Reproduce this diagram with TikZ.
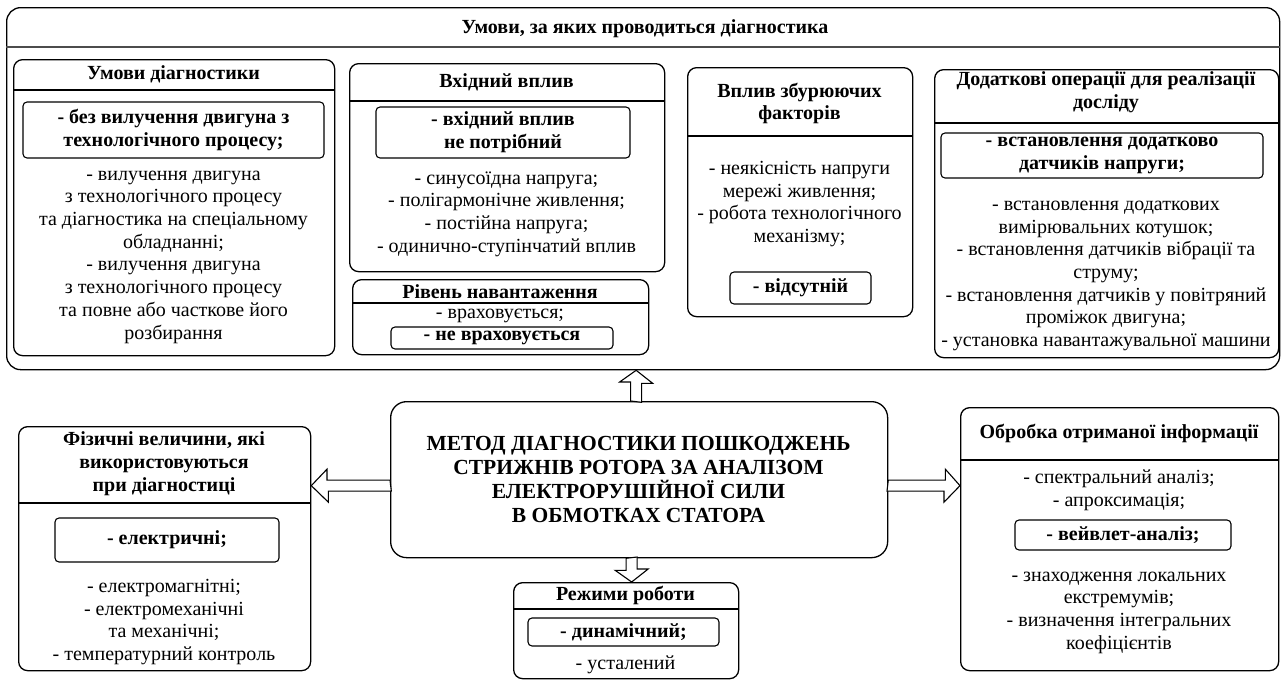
\documentclass[tikz,border=0pt]{standalone}
\usepackage{fontspec}
\setmainfont{Liberation Serif}
\usetikzlibrary{calc}
\newcommand{\txtsize}{\fontsize{20}{22.7}\selectfont}
\newcommand{\bigsize}{\fontsize{21.5}{24}\selectfont}

\begin{document}
\begin{tikzpicture}[
  x=1pt, y=-1pt,
  panel/.style={
    draw, line width=1.3pt, rounded corners=9pt,
    anchor=north west, inner sep=0pt
  },
  headline/.style={line width=1.3pt},
  head/.style={align=center, inner sep=0pt, font=\txtsize\bfseries},
  body/.style={align=center, inner sep=0pt, font=\txtsize},
  keybox/.style={
    draw, line width=1.1pt, rounded corners=4pt,
    inner sep=0pt, align=center, font=\txtsize\bfseries
  },
  blockarrow/.style={draw, line width=1.1pt, fill=white, line join=miter}
]
\useasboundingbox (0,0) rectangle (1285,680);

\node[panel, minimum width=1273pt, minimum height=362pt, rounded corners=14pt] (framebox) at (6,7) {};
\draw[line width=2pt, black!70] (framebox.west |- 0,47) -- (framebox.east |- 0,47);
\node[head] (frametitle) at (645,29) {Умови, за яких проводиться діагностика};

\node[panel, minimum width=321pt, minimum height=296pt] (condbox) at (13,59) {};
\draw[headline] (condbox.west |- 0,90) -- (condbox.east |- 0,90);
\node[head] (condhead) at (173.5,74.5) {Умови діагностики};
\node[keybox, minimum width=301pt, minimum height=56pt] (condkey) at (173.5,130) {- без вилучення двигуна з\\технологічного процесу;};
\node[body] (condlist) at (173.5,257) {- вилучення двигуна\\з технологічного процесу\\та діагностика на спеціальному\\обладнанні;\\- вилучення двигуна\\з технологічного процесу\\та повне або часткове його\\розбирання};

\node[panel, minimum width=315pt, minimum height=208pt] (inputbox) at (349,63) {};
\draw[headline] (inputbox.west |- 0,101) -- (inputbox.east |- 0,101);
\node[head] (inputhead) at (506.5,82) {Вхідний вплив};
\node[keybox, minimum width=254pt, minimum height=51pt] (inputkey) at (503,132.5) {- вхідний вплив\\не потрібний};
\node[body] (inputlist) at (506.5,214) {- синусоїдна напруга;\\- полігармонічне живлення;\\- постійна напруга;\\- одинично-ступінчатий вплив};

\node[panel, minimum width=296pt, minimum height=75pt] (loadbox) at (352,279) {};
\draw[headline] (loadbox.west |- 0,303) -- (loadbox.east |- 0,303);
\node[head] (loadhead) at (500,291.5) {Рівень навантаження};
\node[body] (loadlist) at (500,316) {- враховується;};
\node[keybox, minimum width=222pt, minimum height=22pt] (loadkey) at (502,338) {- не враховується};

\node[panel, minimum width=225pt, minimum height=249pt] (noisebox) at (687,67) {};
\draw[headline] (noisebox.west |- 0,136) -- (noisebox.east |- 0,136);
\node[head] (noisehead) at (799.5,103.5) {Вплив збурюючих\\факторів};
\node[body] (noiselist) at (799.5,204) {- неякісність напруги\\мережі живлення;\\- робота технологічного\\механізму;};
\node[keybox, minimum width=141pt, minimum height=32pt] (noisekey) at (800.5,288) {- відсутній};

\node[panel, minimum width=344pt, minimum height=288pt] (extrabox) at (934,69) {};
\draw[headline] (extrabox.west |- 0,123) -- (extrabox.east |- 0,123);
\node[head] (extrahead) at (1106,92) {Додаткові операції для реалізації\\досліду};
\node[keybox, minimum width=322pt, minimum height=45pt] (extrakey) at (1102,155.5) {- встановлення додатково\\датчиків напруги;};
\node[body] (extralist) at (1106,276) {- встановлення додаткових\\вимірювальних котушок;\\- встановлення датчиків вібрації та\\струму;\\- встановлення датчиків у повітряний\\проміжок двигуна;\\- установка навантажувальної машини};

\node[panel, minimum width=497pt, minimum height=156pt, rounded corners=16pt] (methodbox) at (390,401) {};
\node[align=center, inner sep=0pt, font=\bigsize\bfseries] (methodtext) at (638.5,479) {МЕТОД ДІАГНОСТИКИ ПОШКОДЖЕНЬ\\СТРИЖНІВ РОТОРА ЗА АНАЛІЗОМ\\ЕЛЕКТРОРУШІЙНОЇ СИЛИ\\В ОБМОТКАХ СТАТОРА};

\node[panel, minimum width=292pt, minimum height=244pt] (physbox) at (18,426) {};
\draw[headline] (physbox.west |- 0,503) -- (physbox.east |- 0,503);
\node[head] (physhead) at (164,463.5) {Фізичні величини, які\\використовуються\\при діагностиці};
\node[keybox, minimum width=224pt, minimum height=44pt] (physkey) at (167,540) {- електричні;};
\node[body] (physlist) at (164,622) {- електромагнітні;\\- електромеханічні\\та механічні;\\- температурний контроль};

\node[panel, minimum width=318pt, minimum height=263pt] (procbox) at (960,407) {};
\draw[headline] (procbox.west |- 0,460) -- (procbox.east |- 0,460);
\node[head] (prochead) at (1119,433) {Обробка отриманої інформації};
\node[body] (proclist) at (1119,490) {- спектральний аналіз;\\- апроксимація;};
\node[keybox, minimum width=216pt, minimum height=30pt] (prockey) at (1123,535) {- вейвлет-аналіз;};
\node[body] (proclisttwo) at (1119,612.5) {- знаходження локальних\\екстремумів;\\- визначення інтегральних\\коефіцієнтів};

\node[panel, minimum width=225pt, minimum height=96pt] (modebox) at (513,582) {};
\draw[headline] (modebox.west |- 0,609) -- (modebox.east |- 0,609);
\node[head] (modehead) at (625.5,595.5) {Режими роботи};
\node[keybox, minimum width=191pt, minimum height=28pt] (modekey) at (623.5,632) {- динамічний;};
\node[body] (modelist) at (625.5,665) {- усталений};

\coordinate (utip) at ($(methodbox.north)+(-3,0)$);
\draw[blockarrow] ($(utip)+(-5.5,0)$) -- ++(0,-19) -- ++(-11,0) -- (utip |- framebox.south) -- ++(16.5,13) -- ++(-11,0) -- ++(0,19) -- cycle;

\coordinate (dtip) at ($(modebox.north)+(5.5,0)$);
\draw[blockarrow] ($(dtip |- methodbox.south)+(-5.5,0)$) -- ++(0,12) -- ++(-11,0) -- (dtip) -- ++(16.5,-13) -- ++(-11,0) -- ++(0,-12) -- cycle;

\coordinate (lmid) at ($(methodbox.west)+(0,6)$);
\draw[blockarrow] ($(lmid)+(0,-5.5)$) -- ++(-63,0) -- ++(0,-11) -- (lmid -| physbox.east) -- ++(17,16.5) -- ++(0,-11) -- ++(63,0) -- cycle;

\coordinate (rmid) at ($(methodbox.east)+(0,6)$);
\draw[blockarrow] ($(rmid)+(0,-5.5)$) -- ++(57,0) -- ++(0,-11) -- (rmid -| procbox.west) -- ++(-16,16.5) -- ++(0,-11) -- ++(-57,0) -- cycle;
\end{tikzpicture}
\end{document}
